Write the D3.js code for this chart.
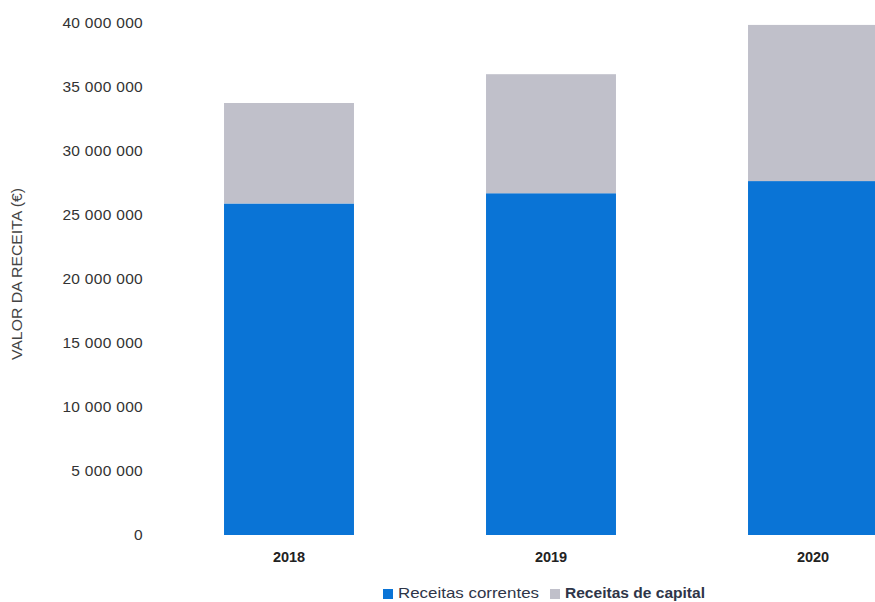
<!DOCTYPE html>
<html><head><meta charset="utf-8">
<script src="https://cdn.jsdelivr.net/npm/d3@7"></script>
<style>body{margin:0;background:#fff}svg{display:block}</style>
</head><body>
<svg id="c" width="875" height="602"></svg>
<script>
const years = ["2018", "2019", "2020"];
const correntes = [25900000, 26700000, 27650000];
const capital = [7850000, 9300000, 12200000];
const yTicks = [0, 5000000, 10000000, 15000000, 20000000, 25000000, 30000000, 35000000, 40000000];
const seriesNames = ["Receitas correntes", "Receitas de capital"];
const colors = ["#0a74d6", "#c0c0ca"];

const svg = d3.select("#c");
const x = d3.scaleBand().domain(years).range([158, 944]).paddingInner(0.504).paddingOuter(0.252);
const y = d3.scaleLinear().domain([0, 40000000]).range([535, 23]);

const rows = years.map((yr, i) => ({year: yr, correntes: correntes[i], capital: capital[i]}));
const stack = d3.stack().keys(["correntes", "capital"])(rows);

svg.append("g").selectAll("g").data(stack).join("g")
  .attr("fill", (d, i) => colors[i])
  .selectAll("rect").data(d => d).join("rect")
  .attr("x", d => x(d.data.year))
  .attr("width", x.bandwidth())
  .attr("y", d => y(d[1]))
  .attr("height", d => y(d[0]) - y(d[1]));

const fmt = v => d3.format(",")(v).replace(/,/g, " ");
const yAxis = d3.axisLeft(y).tickValues(yTicks).tickFormat(fmt).tickSize(0).tickPadding(0);
const gy = svg.append("g").attr("transform", "translate(143,0)").call(yAxis);
gy.select(".domain").remove();
gy.selectAll("text").attr("font-family", "Liberation Sans, Arial, sans-serif")
  .attr("font-size", 15.5).attr("fill", "#333").attr("letter-spacing", "0.3px");

const xAxis = d3.axisBottom(x).tickSize(0).tickPadding(0);
const gx = svg.append("g").attr("transform", "translate(0,552)").call(xAxis);
gx.select(".domain").remove();
gx.selectAll("text").attr("font-family", "Liberation Sans, Arial, sans-serif")
  .attr("font-size", 14.5).attr("font-weight", "bold").attr("fill", "#222");

svg.append("text")
  .attr("transform", "translate(22,274) rotate(-90)")
  .attr("text-anchor", "middle")
  .attr("font-family", "Liberation Sans, Arial, sans-serif")
  .attr("font-size", 14).attr("fill", "#444")
  .attr("textLength", 172).attr("lengthAdjust", "spacingAndGlyphs")
  .text("VALOR DA RECEITA (€)");

const leg = svg.append("g");
const legX = [383, 550];
const legW = [141, 140];
seriesNames.forEach((n, i) => {
  leg.append("rect").attr("x", legX[i]).attr("y", 589).attr("width", 10).attr("height", 10).attr("fill", colors[i]);
  leg.append("text").attr("x", legX[i] + 15).attr("y", 598)
    .attr("font-family", "Liberation Sans, Arial, sans-serif")
    .attr("font-size", 14.5).attr("font-weight", i === 1 ? "bold" : "normal")
    .attr("textLength", legW[i]).attr("lengthAdjust", "spacingAndGlyphs")
    .attr("fill", "#2e3548").text(n);
});
</script>
</body></html>
